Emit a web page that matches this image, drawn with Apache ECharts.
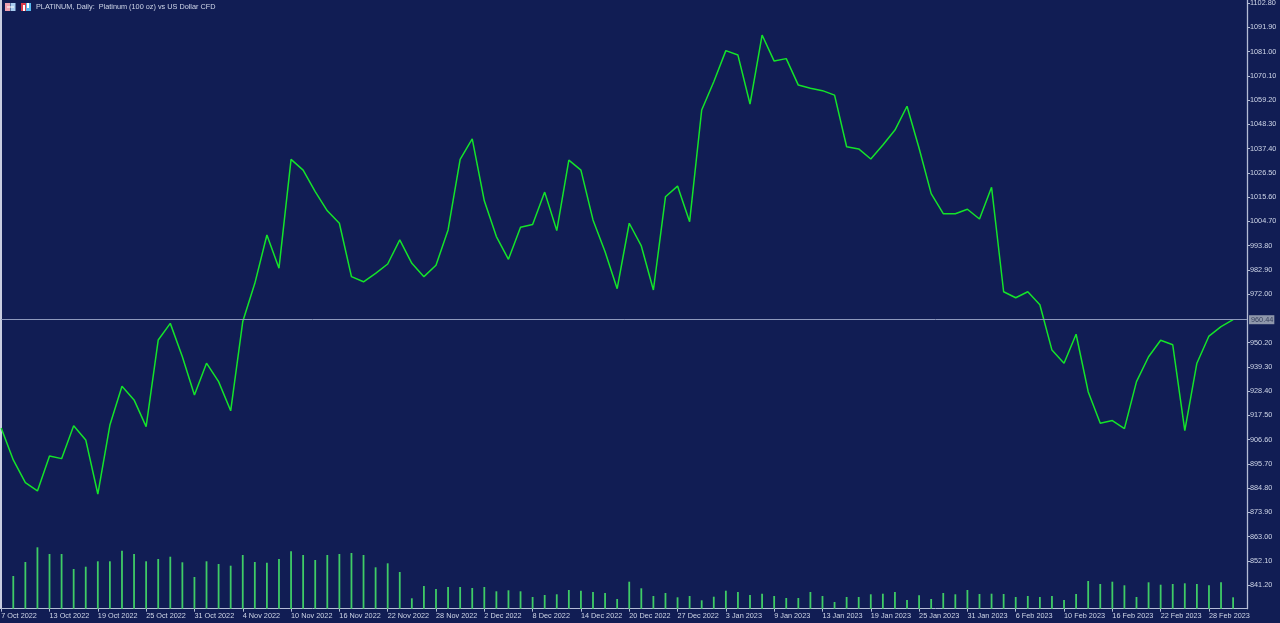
<!DOCTYPE html>
<html>
<head>
<meta charset="utf-8">
<style>html,body{margin:0;padding:0;background:#111d54}#c{width:1280px;height:623px}</style>
<script src="https://cdn.jsdelivr.net/npm/echarts@6/dist/echarts.min.js"></script>
</head>
<body>
<div id="c"></div>
<script>
const titleText = 'PLATINUM, Daily:  Platinum (100 oz) vs US Dollar CFD';
const dateLabels = ['7 Oct 2022','13 Oct 2022','19 Oct 2022','25 Oct 2022','31 Oct 2022','4 Nov 2022','10 Nov 2022','16 Nov 2022','22 Nov 2022','28 Nov 2022','2 Dec 2022','8 Dec 2022','14 Dec 2022','20 Dec 2022','27 Dec 2022','3 Jan 2023','9 Jan 2023','13 Jan 2023','19 Jan 2023','25 Jan 2023','31 Jan 2023','6 Feb 2023','10 Feb 2023','16 Feb 2023','22 Feb 2023','28 Feb 2023'];
const priceTicks = [841.2,852.1,863,873.9,884.8,895.7,906.6,917.5,928.4,939.3,950.2,972,982.9,993.8,1004.7,1015.6,1026.5,1037.4,1048.3,1059.2,1070.1,1081,1091.9,1102.8];
const closes = [911.8,897.4,887.2,883.5,899.2,898.0,912.8,906.4,882.1,913.1,930.5,924.4,912.4,951.3,958.8,943.8,926.6,940.9,932.6,919.5,959.6,976.8,998.5,983.6,1032.5,1027.7,1018.0,1009.4,1003.8,979.8,977.5,981.3,985.5,996.3,985.8,979.8,984.9,1000.8,1032.5,1041.7,1013.9,997.8,987.6,1002.0,1003.2,1017.8,1000.5,1032.2,1027.7,1005.3,991.0,974.4,1003.8,993.6,973.8,1015.7,1020.5,1004.5,1054.7,1067.4,1081.4,1079.4,1057.4,1088.4,1076.7,1077.8,1065.9,1064.5,1063.4,1061.4,1038.2,1037.2,1032.7,1039.0,1045.7,1056.4,1037.5,1017.1,1008.1,1008.1,1010.1,1005.7,1020.0,973.0,970.3,973.0,967.2,946.8,940.9,953.9,928.1,913.9,915.1,911.5,932.6,943.8,951.2,949.2,910.6,940.9,953.1,957.3,960.44];
const volumes = [null,3270,4670,6140,5470,5470,3970,4200,4740,4740,5800,5470,4740,4970,5200,4640,3170,4740,4470,4300,5370,4670,4600,4970,5740,5370,4870,5370,5470,5570,5370,4140,4540,3670,1040,2270,1970,2170,2170,2070,2170,1740,1840,1740,1170,1370,1440,1870,1800,1670,1570,970,2700,2040,1270,1570,1140,1270,840,1200,1800,1670,1370,1500,1270,1070,1070,1670,1270,670,1170,1170,1440,1500,1670,870,1340,970,1570,1440,1870,1470,1500,1470,1170,1270,1170,1270,870,1470,2770,2470,2700,2340,1170,2640,2400,2470,2540,2470,2340,2640,1140];
const lastPrice = 960.44;

const BG = '#111d54', AXIS = '#b4bcd6', TXT = '#cfd6e8', FONT = '"Liberation Sans", Arial, sans-serif';
const chart = echarts.init(document.getElementById('c'), null, {renderer:'canvas'});
chart.setOption({
  animation:false,
  backgroundColor:BG,
  title:{text:titleText,left:36,top:3,padding:0,textStyle:{color:TXT,fontSize:7.3,fontWeight:'normal',fontFamily:FONT}},
  grid:{left:1.2,top:0,right:33,bottom:14.3,containLabel:false,outerBoundsMode:'none'},
  xAxis:{type:'value',min:0,max:103.15,interval:4,splitLine:{show:false},
    axisLine:{lineStyle:{color:AXIS,width:1}},
    axisTick:{length:3,lineStyle:{color:AXIS}},
    axisLabel:{color:TXT,fontSize:7.3,fontFamily:FONT,align:'left',margin:4,showMinLabel:true,showMaxLabel:false,
      formatter:v=>dateLabels[v/4]||''}},
  yAxis:[
    {type:'value',position:'right',min:830.55,max:1104.15,splitLine:{show:false},
     axisLine:{show:true,onZero:false,lineStyle:{color:AXIS,width:1.3}},
     axisTick:{show:true,length:3,lineStyle:{color:AXIS},customValues:priceTicks},
     axisLabel:{color:TXT,fontSize:7.3,fontFamily:FONT,margin:3,align:'left',customValues:priceTicks,
       formatter:v=>v.toFixed(2)}},
    {type:'value',min:0,max:60870,show:false,splitLine:{show:false}}
  ],
  series:[
    {type:'bar',yAxisIndex:1,barWidth:1.8,itemStyle:{color:'#3fcb66'},data:volumes.map((v,i)=>[i,v])},
    {type:'line',yAxisIndex:0,symbol:'none',smooth:false,lineStyle:{color:'#14e32a',width:1.5},
     data:closes.map((v,i)=>[i,v]),
     markLine:{silent:true,symbol:'none',animation:false,
       lineStyle:{color:'#8e99bd',width:1,type:'solid'},
       label:{position:'end',distance:2,formatter:p=>p.value.toFixed(2),color:'#39425f',backgroundColor:'#8f97ab',
         fontSize:7.3,fontFamily:FONT,padding:[1,1,1,2]},
       data:[{yAxis:lastPrice}]}}
  ],
  graphic:[
    {type:'rect',shape:{x:0,y:0,width:2,height:609},style:{fill:'#c9cde0'},silent:true},
    {type:'rect',shape:{x:5,y:3,width:5,height:8},style:{fill:'#f0a0b0'},silent:true},
    {type:'rect',shape:{x:10.5,y:3,width:5,height:8},style:{fill:'#a8cdf0'},silent:true},
    {type:'rect',shape:{x:7,y:6.5,width:7,height:1},style:{fill:'#ffffff'},silent:true},
    {type:'rect',shape:{x:21,y:3,width:5,height:8},style:{fill:'#d83a4a'},silent:true},
    {type:'rect',shape:{x:26,y:3,width:5,height:8},style:{fill:'#58b8ee'},silent:true},
    {type:'rect',shape:{x:23,y:5,width:2,height:6},style:{fill:'#ffffff'},silent:true},
    {type:'rect',shape:{x:27,y:3,width:2,height:5},style:{fill:'#ffffff'},silent:true}
  ]
});
</script>
</body>
</html>
